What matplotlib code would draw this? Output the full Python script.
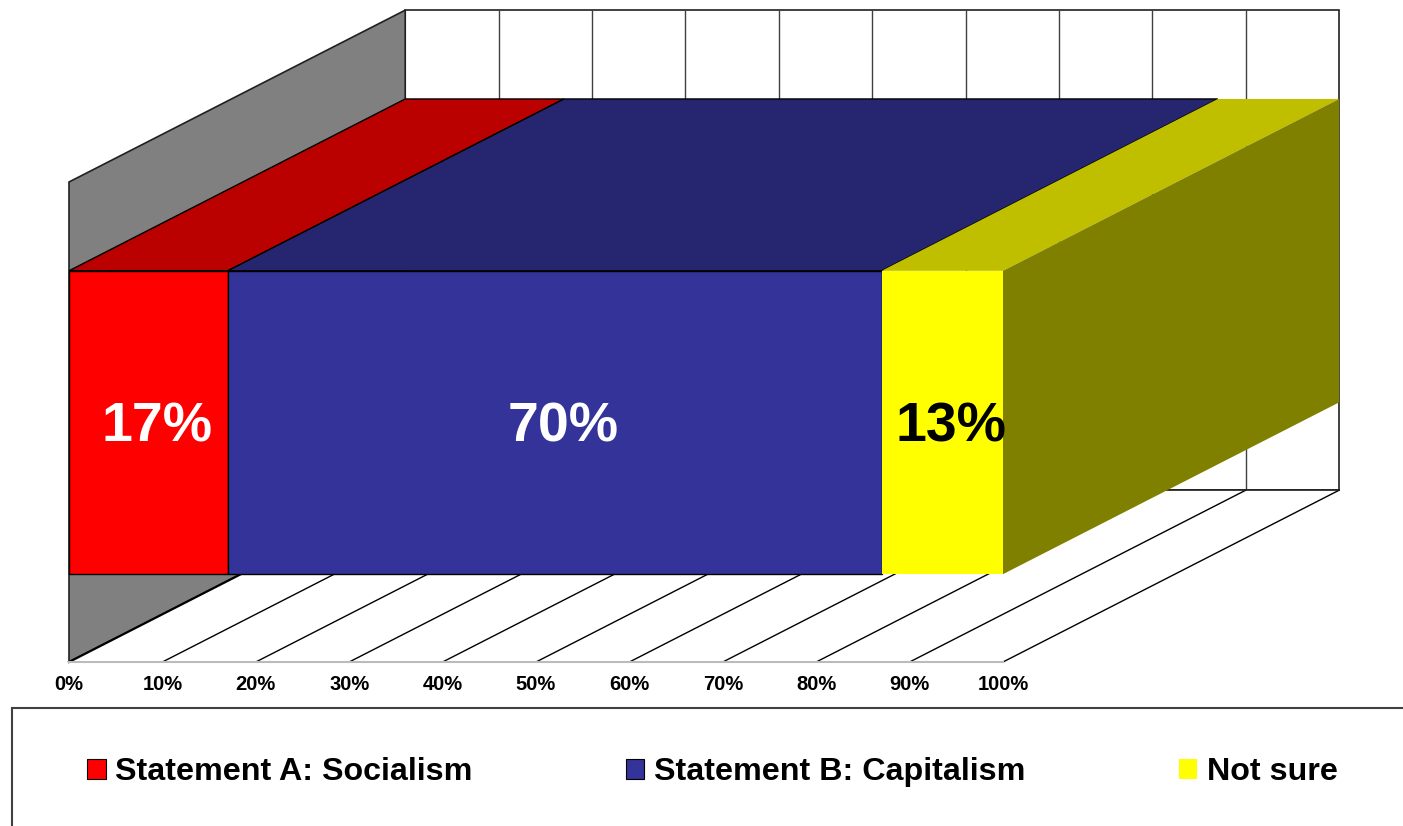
import numpy as np
import matplotlib
matplotlib.use("Agg")
import matplotlib.pyplot as plt
from matplotlib.patches import Polygon, Rectangle, Patch

plt.rcParams['font.family'] = ['Liberation Sans', 'DejaVu Sans']
plt.rcParams['font.weight'] = 'bold'

# data
categories = ["Statement A: Socialism", "Statement B: Capitalism", "Not sure"]
values = [17, 70, 13]
front_colors = ["#FF0000", "#333399", "#FFFF00"]
top_colors = ["#BB0000", "#262670", "#BFBF00"]
side_color = "#808000"
label_colors = ["white", "white", "black"]
tick_values = list(range(0, 101, 10))
tick_labels = ["{}%".format(t) for t in tick_values]

# oblique "3d" geometry, in data units (x = percent, y = height)
DX, DY = 36.0, 35.8          # depth vector
WALL_H = 100.0
BAR_LO, BAR_HI = 18.3, 81.5

W, H = 1403, 826
fig = plt.figure(figsize=(W / 100, H / 100), dpi=100)
ax = fig.add_axes([0, 0, 1, 1])
ax.set_xlim(-69 / 9.34, (W - 69) / 9.34)
ax.set_ylim(-(H - 662) / 4.8, 662 / 4.8)
ax.axis('off')

def P(x, y, d):
    return (x + DX * d, y + DY * d)

def poly(pts, fc, ec='black', lw=1.0, z=1):
    ax.add_patch(Polygon(pts, closed=True, facecolor=fc, edgecolor=ec, linewidth=lw, zorder=z))

# back wall
poly([P(0, 0, 1), P(100, 0, 1), P(100, WALL_H, 1), P(0, WALL_H, 1)], 'white', '#202020', 1.2, 1)
for t in tick_values[1:-1]:
    a, b = P(t, 0, 1), P(t, WALL_H, 1)
    ax.plot([a[0], b[0]], [a[1], b[1]], color='#404040', lw=1.0, zorder=1.5)

# left wall
poly([P(0, 0, 0), P(0, 0, 1), P(0, WALL_H, 1), P(0, WALL_H, 0)], '#808080', '#202020', 1.2, 2)

# floor
poly([P(0, 0, 0), P(100, 0, 0), P(100, 0, 1), P(0, 0, 1)], 'white', 'none', 0, 2)
for t in tick_values:
    a, b = P(t, 0, 0), P(t, 0, 1)
    ax.plot([a[0], b[0]], [a[1], b[1]], color='black', lw=1.6 if t == 0 else 1.0, zorder=2.5)
ax.plot([0, 100], [0, 0], color='#BBBBBB', lw=1.5, zorder=2.5)
ax.plot([DX, 100 + DX], [DY, DY], color='#202020', lw=1.2, zorder=2.5)

# stacked bar
left = 0
for i, v in enumerate(values):
    r = left + v
    ec = 'none' if i == 2 else 'black'
    poly([P(left, BAR_HI, 0), P(r, BAR_HI, 0), P(r, BAR_HI, 1), P(left, BAR_HI, 1)],
         top_colors[i], ec, 1.0, 3)
    poly([P(left, BAR_LO, 0), P(r, BAR_LO, 0), P(r, BAR_HI, 0), P(left, BAR_HI, 0)],
         front_colors[i], ec, 1.0, 4)
    ax.text(left + v / 2 + 0.9, (BAR_LO + BAR_HI) / 2 - 1.0, "{}%".format(v),
            color=label_colors[i], fontsize=40, fontweight='bold',
            ha='center', va='center', zorder=6)
    left = r
poly([P(100, BAR_LO, 0), P(100, BAR_LO, 1), P(100, BAR_HI, 1), P(100, BAR_HI, 0)],
     side_color, 'none', 0, 3.5)

# x tick labels
for t, lab in zip(tick_values, tick_labels):
    ax.text(t, -4.7, lab, fontsize=14.5, fontweight='bold', ha='center', va='center')

# legend box
fig.add_artist(Rectangle((12 / W, -0.05), 1.1, 0.05 + 1 - 708 / H, transform=fig.transFigure,
                         fill=False, edgecolor='#404040', lw=1.5))
handles = [Patch(facecolor=c, edgecolor=('none' if c == "#FFFF00" else 'black'), lw=0.8)
           for c in front_colors]
fig.legend(handles, categories, loc='center left', bbox_to_anchor=(87 / W, 1 - 772 / H),
           ncol=3, frameon=False, fontsize=23.2, borderpad=0, borderaxespad=0,
           handlelength=0.58, handleheight=0.58, handletextpad=0.3, columnspacing=4.75)

fig.savefig("out.png", dpi=100)
